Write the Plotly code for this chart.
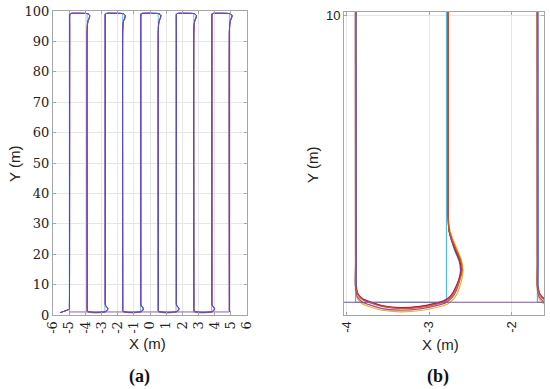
import plotly.graph_objects as go

W, H = 550, 389

# ---------------- data ----------------
# column positions of the coverage path (m)
col_x = [-4.99, -3.89, -2.79, -1.69, -0.59, 0.51, 1.61, 2.71, 3.81, 4.91]

# reference path (sharp corners)
ref_x = [-4.99, -4.99, -3.89, -3.89, -2.79, -2.79, -1.69, -1.69, -0.59, -0.59,
         0.51, 0.51, 1.61, 1.61, 2.71, 2.71, 3.81, 3.81, 4.91, 4.91]
ref_y = [1.0, 99.2, 99.2, 1.0, 1.0, 99.2, 99.2, 1.0, 1.0, 99.2,
         99.2, 1.0, 1.0, 99.2, 99.2, 1.0, 1.0, 99.2, 99.2, 1.0]

# return line along the bottom
ret_x = [4.91, -4.99]
ret_y = [1.0, 1.0]

# start segment of the tracked runs
start_x = [-5.57, -4.99, -4.985, -4.98]
start_y = [0.76, 1.97, 3.0, 5.0]

# turn at the top (dx relative to the up column)
top_dx = [0.02, 0.02, 0.03, 0.10, 1.00, 1.16, 1.26, 1.24, 1.16, 1.12, 1.10]
top_y = [95.0, 97.8, 98.9, 99.2, 99.2, 99.1, 98.5, 97.8, 96.8, 95.5, 93.0]

# end of the last column
end_dx = [0.00, 0.00, 0.01, 0.06]
end_y = [3.0, 1.6, 1.15, 1.0]

# turns at the bottom (dx relative to the down column), one per run
orange_dx = [0.00, 0.00, 0.03, 0.09, 0.19, 0.33, 0.54, 0.78, 0.98, 1.08, 1.16, 1.21, 1.26, 1.29, 1.27, 1.22, 1.17, 1.13, 1.12, 1.12]
orange_y = [2.2, 1.49, 1.23, 1.07, 0.97, 0.86, 0.80, 0.84, 0.94, 1.02, 1.18, 1.39, 1.70, 2.01, 2.33, 2.64, 2.95, 3.27, 3.79, 4.6]
red_dx = [0.00, 0.00, 0.03, 0.09, 0.19, 0.33, 0.54, 0.78, 0.97, 1.07, 1.15, 1.20, 1.25, 1.28, 1.26, 1.21, 1.17, 1.13, 1.12, 1.12]
red_y = [2.2, 1.52, 1.26, 1.10, 1.00, 0.89, 0.83, 0.87, 0.97, 1.05, 1.20, 1.41, 1.71, 2.01, 2.32, 2.62, 2.93, 3.25, 3.75, 4.6]
purple_dx = [0.00, 0.00, 0.02, 0.08, 0.18, 0.32, 0.53, 0.78, 0.99, 1.09, 1.17, 1.22, 1.26, 1.28, 1.26, 1.21, 1.16, 1.13, 1.12, 1.12]
purple_y = [2.2, 1.45, 1.18, 1.01, 0.91, 0.80, 0.75, 0.79, 0.90, 0.98, 1.15, 1.37, 1.69, 2.01, 2.33, 2.64, 2.95, 3.27, 3.79, 4.6]
yellow_dx = [0.00, 0.00, 0.02, 0.08, 0.18, 0.32, 0.53, 0.79, 1.00, 1.11, 1.19, 1.24, 1.28, 1.30, 1.28, 1.23, 1.18, 1.14, 1.12, 1.12]
yellow_y = [2.2, 1.40, 1.12, 0.95, 0.85, 0.75, 0.70, 0.74, 0.85, 0.94, 1.11, 1.34, 1.67, 2.00, 2.33, 2.65, 2.96, 3.28, 3.80, 4.6]
blue_dx = [0.01, 0.01, 0.03, 0.09, 0.19, 0.33, 0.54, 0.78, 0.97, 1.07, 1.15, 1.20, 1.25, 1.27, 1.25, 1.20, 1.16, 1.13, 1.12, 1.12]
blue_y = [2.2, 1.50, 1.25, 1.09, 0.99, 0.88, 0.82, 0.86, 0.96, 1.04, 1.19, 1.40, 1.71, 2.01, 2.32, 2.63, 2.94, 3.26, 3.77, 4.6]

# tick labels
xa_ticks = [-6, -5, -4, -3, -2, -1, 0, 1, 2, 3, 4, 5, 6]
xa_labels = ["-6", "-5", "-4", "-3", "-2", "-1", "0", "1", "2", "3", "4", "5", "6"]
ya_ticks = [0, 10, 20, 30, 40, 50, 60, 70, 80, 90, 100]
xb_ticks = [-4, -3, -2]
xb_labels = ["-4", "-3", "-2"]
yb_ticks = [10]

runs = {
    "yellow": (yellow_dx, yellow_y),
    "orange": (orange_dx, orange_y),
    "red": (red_dx, red_y),
    "purple": (purple_dx, purple_y),
    "blue": (blue_dx, blue_y),
}
# drawing order and colours for each panel
order_a = [("yellow", "#c890d4"), ("orange", "#d0506e"), ("red", "#c04060"),
           ("purple", "#b060c8"), ("blue", "#3848c8")]
order_b = [("blue", "#3a5cc8"), ("yellow", "#EDB120"), ("purple", "#9a4ab0"),
           ("red", "#B0203a"), ("orange", "#D95319")]


def build_run(bdx, by):
    xs, ys = list(start_x), list(start_y)
    last = len(col_x) - 1
    for i, cx in enumerate(col_x):
        if i % 2 == 0:
            xs += [cx + d for d in top_dx]
            ys += list(top_y)
        elif i == last:
            xs += [cx + d for d in end_dx]
            ys += list(end_y)
        else:
            xs += [cx + d for d in bdx]
            ys += list(by)
    return xs, ys


fig = go.Figure()

for xa, ya, w, order in [("x", "y", 0.9, order_a), ("x2", "y2", 1.2, order_b)]:
    fig.add_trace(go.Scatter(x=ref_x, y=ref_y, mode="lines", xaxis=xa, yaxis=ya,
                             line=dict(color="#4DBEEE", width=w), showlegend=False, hoverinfo="skip"))
    for name, col in order:
        bdx, by = runs[name]
        xs, ys = build_run(bdx, by)
        fig.add_trace(go.Scatter(x=xs, y=ys, mode="lines", xaxis=xa, yaxis=ya,
                                 line=dict(color=col, width=w, shape="spline", smoothing=0.5),
                                 showlegend=False, hoverinfo="skip"))
    fig.add_trace(go.Scatter(x=ret_x, y=ret_y, mode="lines", xaxis=xa, yaxis=ya,
                             line=dict(color="#7E4FA8", width=w), showlegend=False, hoverinfo="skip"))

axis_common = dict(showline=True, linecolor="#a6a6a6", linewidth=1, mirror="ticks",
                   ticks="inside", ticklen=3, tickcolor="#a6a6a6",
                   showgrid=True, gridcolor="#e6e6e6", gridwidth=1,
                   zeroline=False, automargin=False)

serif = dict(family="DejaVu Serif", size=13, color="#222222")
sans = dict(family="Liberation Sans", size=13, color="#222222")

fig.update_layout(
    width=W, height=H,
    margin=dict(l=0, r=0, t=0, b=0),
    paper_bgcolor="white", plot_bgcolor="white",
    xaxis=dict(domain=[53 / W, 247 / W], range=[-6, 6], tickvals=xa_ticks, ticktext=xa_labels,
               tickangle=-90, tickfont=serif, anchor="y", **axis_common),
    yaxis=dict(domain=[(H - 315) / H, (H - 11) / H], range=[0, 100], tickvals=ya_ticks,
               tickfont=serif, anchor="x", **axis_common),
    xaxis2=dict(domain=[344 / W, 544 / W], range=[-4.03, -1.61], tickvals=xb_ticks, ticktext=xb_labels,
                tickangle=-90, tickfont=sans, anchor="y2", **axis_common),
    yaxis2=dict(domain=[(H - 315) / H, (H - 12) / H], range=[0.6, 10.1], tickvals=yb_ticks,
                tickfont=sans, anchor="x2", **axis_common),
)


def ann(text, px, py, font, angle=0):
    fig.add_annotation(text=text, x=px / W, y=1 - py / H, xref="paper", yref="paper",
                       showarrow=False, textangle=angle, font=font,
                       xanchor="center", yanchor="middle")


title_font = dict(family="Liberation Sans", size=15, color="#222222")
label_font = dict(family="Liberation Serif", size=18, color="#111111")

ann("Y (m)", 15, 164, title_font, -90)
ann("X (m)", 147, 343, title_font)
ann("<b>(a)</b>", 139, 376, label_font)
ann("Y (m)", 312, 165, title_font, -90)
ann("X (m)", 441, 344, title_font)
ann("<b>(b)</b>", 438, 376, label_font)

fig.write_html("out.html", config={"displayModeBar": False},
               post_script="document.body.style.margin='0px';document.body.style.padding='0px';")
